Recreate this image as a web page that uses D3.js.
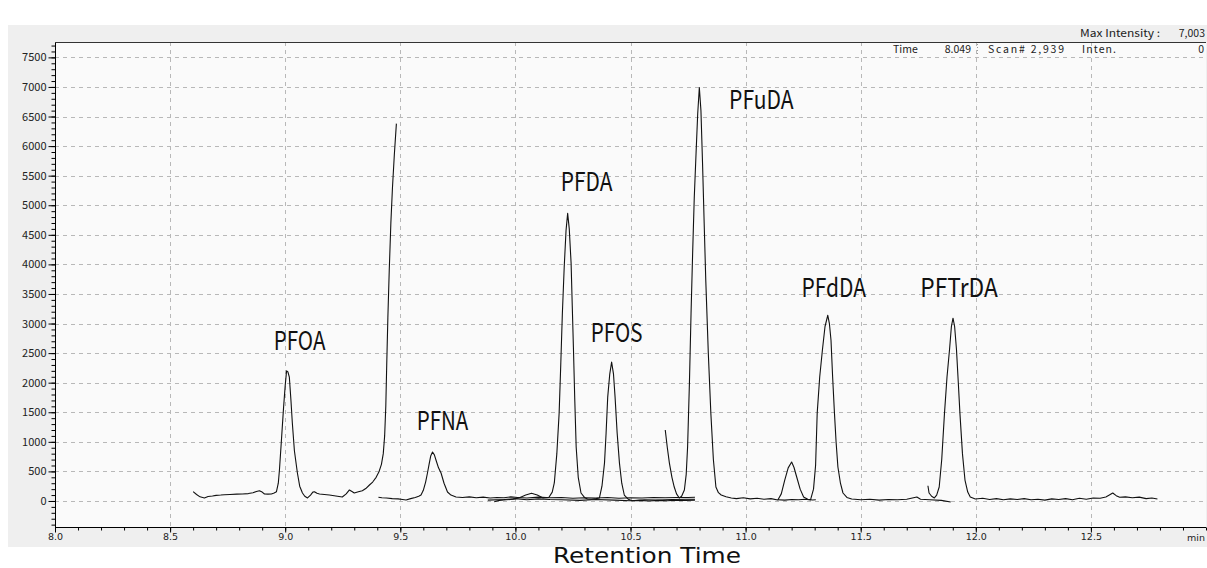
<!DOCTYPE html>
<html>
<head>
<meta charset="utf-8">
<script src="https://cdn.jsdelivr.net/npm/d3@7"></script>
<style>
  html, body { margin: 0; padding: 0; background: #ffffff; }
  svg { display: block; }
</style>
</head>
<body>
<svg id="chart" width="1207" height="568"></svg>
<script>
// ---------- DATA ----------
const xMajorTicks = [8.0, 8.5, 9.0, 9.5, 10.0, 10.5, 11.0, 11.5, 12.0, 12.5];
const yMajorTicks = [0, 500, 1000, 1500, 2000, 2500, 3000, 3500, 4000, 4500, 5000, 5500, 6000, 6500, 7000, 7500];

const tracePFOA = [[8.600,157],[8.615,110],[8.630,70],[8.649,51],[8.665,75],[8.684,84],[8.700,95],[8.720,100],[8.736,106],[8.760,110],[8.790,115],[8.814,118],[8.840,125],[8.860,140],[8.875,160],[8.888,174],[8.900,150],[8.910,118],[8.925,115],[8.940,118],[8.952,135],[8.962,157],[8.970,300],[8.975,523],[8.984,1050],[8.993,1587],[9.000,1950],[9.006,2200],[9.012,2180],[9.018,2093],[9.025,1700],[9.031,1317],[9.040,850],[9.053,473],[9.063,250],[9.075,135],[9.085,80],[9.097,51],[9.110,100],[9.120,150],[9.127,157],[9.138,130],[9.149,118],[9.170,110],[9.192,101],[9.220,85],[9.248,68],[9.265,120],[9.279,186],[9.290,160],[9.300,135],[9.318,155],[9.335,174],[9.350,210],[9.366,270],[9.380,320],[9.395,400],[9.408,500],[9.418,620],[9.426,800],[9.432,1100],[9.437,1600],[9.441,2300],[9.446,3100],[9.452,3900],[9.459,4700],[9.466,5300],[9.474,5850],[9.483,6380]];

const tracePFNA = [[9.405,62],[9.420,55],[9.440,50],[9.465,40],[9.490,35],[9.510,25],[9.525,17],[9.545,40],[9.565,60],[9.580,80],[9.590,101],[9.600,180],[9.610,320],[9.618,473],[9.625,620],[9.632,760],[9.640,827],[9.648,780],[9.656,680],[9.666,560],[9.677,473],[9.690,300],[9.705,152],[9.720,100],[9.742,68],[9.770,60],[9.800,70],[9.830,55],[9.860,65],[9.890,50],[9.920,60],[9.950,55],[9.980,70],[10.010,60],[10.050,50],[10.100,65],[10.150,55],[10.200,60],[10.250,45],[10.300,55],[10.350,50],[10.400,60],[10.450,45],[10.500,55],[10.550,50],[10.600,60],[10.650,55],[10.700,60],[10.750,60],[10.780,62]];

const tracePFDA = [[9.908,-12],[9.930,10],[9.960,20],[9.990,30],[10.020,60],[10.045,100],[10.070,130],[10.095,100],[10.120,50],[10.145,60],[10.160,150],[10.169,304],[10.180,800],[10.190,1485],[10.197,2300],[10.204,3170],[10.212,3950],[10.220,4575],[10.227,4862],[10.234,4600],[10.242,4017],[10.247,3300],[10.252,2600],[10.258,1700],[10.264,912],[10.273,400],[10.285,135],[10.300,60],[10.313,34],[10.330,30],[10.350,40],[10.365,51],[10.376,250],[10.387,640],[10.394,1150],[10.401,1756],[10.410,2150],[10.418,2347],[10.426,2150],[10.433,1756],[10.442,1150],[10.452,640],[10.462,300],[10.473,101],[10.490,30],[10.508,5],[10.540,10],[10.580,0],[10.620,10],[10.660,5],[10.700,15],[10.740,10],[10.780,15]];

const traceBase = [[9.880,15],[9.950,25],[10.000,40],[10.050,20],[10.100,35],[10.150,25],[10.200,20],[10.280,10],[10.350,25],[10.430,15],[10.500,5],[10.560,20],[10.620,15],[10.680,25],[10.740,30],[10.780,28]];

const tracePFuDA = [[10.651,1200],[10.660,900],[10.669,640],[10.680,400],[10.690,236],[10.700,120],[10.712,51],[10.722,80],[10.734,186],[10.742,450],[10.748,912],[10.756,2000],[10.763,3170],[10.770,4200],[10.777,5130],[10.785,5900],[10.792,6550],[10.799,6990],[10.806,6600],[10.813,5700],[10.820,4700],[10.827,3730],[10.838,2500],[10.849,1485],[10.860,700],[10.871,236],[10.882,140],[10.894,101],[10.915,70],[10.938,51],[10.960,40],[10.990,55],[11.020,35],[11.050,45],[11.080,30],[11.110,40],[11.140,17],[11.155,120],[11.170,354],[11.185,560],[11.200,658],[11.210,570],[11.222,405],[11.237,200],[11.252,68],[11.270,30],[11.290,17],[11.305,20]];

const tracePFdDA = [[11.140,20],[11.170,15],[11.200,25],[11.230,20],[11.260,30],[11.282,17],[11.295,200],[11.304,600],[11.311,1485],[11.322,2100],[11.334,2566],[11.345,2950],[11.357,3140],[11.364,3000],[11.371,2718],[11.378,2100],[11.386,1485],[11.393,1000],[11.401,574],[11.412,300],[11.423,135],[11.440,60],[11.461,34],[11.500,20],[11.540,30],[11.580,15],[11.620,25],[11.660,20],[11.700,30],[11.744,68],[11.760,30],[11.800,20],[11.850,10],[11.891,-17]];

const tracePFTrDA = [[11.792,258],[11.797,135],[11.808,80],[11.820,51],[11.830,100],[11.841,236],[11.852,700],[11.864,1485],[11.875,2100],[11.886,2566],[11.894,2950],[11.901,3090],[11.908,2950],[11.916,2566],[11.924,2000],[11.931,1485],[11.942,800],[11.953,354],[11.965,150],[11.976,68],[11.998,34],[12.030,45],[12.060,25],[12.090,40],[12.120,20],[12.150,35],[12.180,25],[12.210,40],[12.240,20],[12.270,30],[12.300,15],[12.330,35],[12.360,25],[12.390,40],[12.420,20],[12.450,45],[12.480,30],[12.510,50],[12.540,45],[12.565,68],[12.580,100],[12.595,135],[12.610,90],[12.625,62],[12.650,70],[12.680,55],[12.710,65],[12.740,40],[12.765,50],[12.789,34]];

const peakNames = ["PFOA", "PFNA", "PFDA", "PFOS", "PFuDA", "PFdDA", "PFTrDA"];
const peakTimes = [9.006, 9.640, 10.227, 10.418, 10.799, 11.357, 11.901];
const peakHeights = [2211, 827, 4862, 2347, 6990, 3140, 3090];

const headerMaxLabel = "Max Intensity :";
const headerMaxValue = "7,003";
const headerTime = "8.049";
const headerScan = "2,939";
const headerInten = "0";
const xTitle = "Retention Time";
const xUnit = "min";

// ---------- LAYOUT ----------
const svg = d3.select("#chart");
const L = 55, R = 1206, T = 42, B = 527;
const CJK = "'Noto Sans CJK JP', sans-serif";
const DJV = "'DejaVu Sans', sans-serif";

const x = d3.scaleLinear().domain([8, 13]).range([L, R]);
const y = d3.scaleLinear().domain([-440, 7760]).range([B, T]);

// panel backgrounds
svg.append("rect").attr("x", 8).attr("y", 25).attr("width", 1199).attr("height", 522).attr("fill", "#efefef");
svg.append("rect").attr("x", L).attr("y", T).attr("width", R - L).attr("height", B - T).attr("fill", "#fafafa");

// grid
const grid = svg.append("g").attr("stroke", "#b8b8b8").attr("stroke-width", 1).attr("stroke-dasharray", "4,4");
grid.selectAll("line.h").data(yMajorTicks).join("line")
  .attr("x1", L).attr("x2", R)
  .attr("y1", d => Math.round(y(d)) + 0.5).attr("y2", d => Math.round(y(d)) + 0.5);
grid.selectAll("line.v").data(xMajorTicks.filter(d => d > 8)).join("line")
  .attr("y1", T).attr("y2", B)
  .attr("x1", d => Math.round(x(d)) + 0.5).attr("x2", d => Math.round(x(d)) + 0.5);

// traces
const line = d3.line().x(d => x(d[0])).y(d => y(d[1]));
const traces = [tracePFOA, tracePFNA, tracePFDA, traceBase, tracePFuDA, tracePFdDA, tracePFTrDA];
svg.append("g").selectAll("path").data(traces).join("path")
  .attr("d", line).attr("fill", "none").attr("stroke", "#111").attr("stroke-width", 1.1)
  .attr("stroke-linejoin", "round");

// axes
const yMinor = d3.range(-400, 7760, 100);
const xMinor = d3.range(80, 131, 1).map(d => d / 10);

const gy = svg.append("g").attr("transform", `translate(${L + 0.5},0)`);
gy.call(d3.axisLeft(y).tickValues(yMinor).tickSize(4).tickFormat(""))
  .call(g => g.select(".domain").remove());
gy.append("g").call(d3.axisLeft(y).tickValues(yMajorTicks).tickSize(7).tickPadding(2).tickFormat(d3.format("d")))
  .call(g => g.select(".domain").remove())
  .call(g => g.selectAll("text").attr("fill", "#222")
    .style("font-family", CJK).style("font-size", "11px"));
gy.selectAll("line").attr("stroke", "#000");

const gx = svg.append("g").attr("transform", `translate(0,${B + 0.5})`);
gx.call(d3.axisBottom(x).tickValues(xMinor).tickSize(3).tickFormat(""))
  .call(g => g.select(".domain").remove());
gx.append("g").call(d3.axisBottom(x).tickValues(xMajorTicks).tickSize(5).tickPadding(1).tickFormat(d3.format(".1f")))
  .call(g => g.select(".domain").remove())
  .call(g => g.selectAll("text").attr("fill", "#222")
    .style("font-family", DJV).style("font-size", "9.5px"));
gx.selectAll("line").attr("stroke", "#000");

svg.append("text").attr("x", R - 1).attr("y", 541).attr("text-anchor", "end")
  .style("font-family", DJV).style("font-size", "9.5px").attr("fill", "#222").text(xUnit);

// axis lines + top border
svg.append("line").attr("x1", L + 0.5).attr("x2", L + 0.5).attr("y1", T).attr("y2", B + 1).attr("stroke", "#000");
svg.append("line").attr("x1", L).attr("x2", R).attr("y1", B + 0.5).attr("y2", B + 0.5).attr("stroke", "#000");
svg.append("line").attr("x1", L).attr("x2", R).attr("y1", T + 0.5).attr("y2", T + 0.5).attr("stroke", "#333");

// header
const hstyle = s => s.style("font-family", CJK).style("font-size", "10.5px").attr("fill", "#222");
svg.append("text").attr("x", 1080).attr("y", 37).call(hstyle)
  .attr("textLength", 80).attr("lengthAdjust", "spacingAndGlyphs").text(headerMaxLabel);
svg.append("text").attr("x", 1205).attr("y", 37).attr("text-anchor", "end").call(hstyle).text(headerMaxValue);
svg.append("text").attr("x", 893).attr("y", 53).call(hstyle).text("Time");
svg.append("text").attr("x", 971).attr("y", 53).attr("text-anchor", "end").call(hstyle).text(headerTime);
svg.append("line").attr("x1", 977.5).attr("x2", 977.5).attr("y1", 44).attr("y2", 56)
  .attr("stroke", "#999").attr("stroke-dasharray", "1,2");
svg.append("text").attr("x", 988).attr("y", 53).call(hstyle)
  .attr("textLength", 76).attr("lengthAdjust", "spacing").text("Scan#  " + headerScan);
svg.append("text").attr("x", 1082).attr("y", 53).call(hstyle)
  .attr("textLength", 34).attr("lengthAdjust", "spacing").text("Inten.");
svg.append("text").attr("x", 1204).attr("y", 53).attr("text-anchor", "end").call(hstyle).text(headerInten);

// peak labels
const labelDx = [13, 10, 19, 5, 62, 6, 6];
const labelDy = [-20, -22, -22, -20, 21, -18, -21];
peakNames.forEach((n, i) => {
  svg.append("text")
    .attr("x", x(peakTimes[i]) + labelDx[i])
    .attr("y", y(peakHeights[i]) + labelDy[i])
    .attr("text-anchor", "middle")
    .style("font-family", CJK).style("font-size", "26px").attr("fill", "#111")
    .attr("textLength", n.length * 12.9)
    .attr("lengthAdjust", "spacingAndGlyphs")
    .text(n);
});

// x title
svg.append("text").attr("x", 647).attr("y", 562.5).attr("text-anchor", "middle")
  .style("font-family", DJV).style("font-size", "22px").attr("fill", "#111")
  .attr("textLength", 188).attr("lengthAdjust", "spacingAndGlyphs")
  .text(xTitle);
</script>
</body>
</html>
